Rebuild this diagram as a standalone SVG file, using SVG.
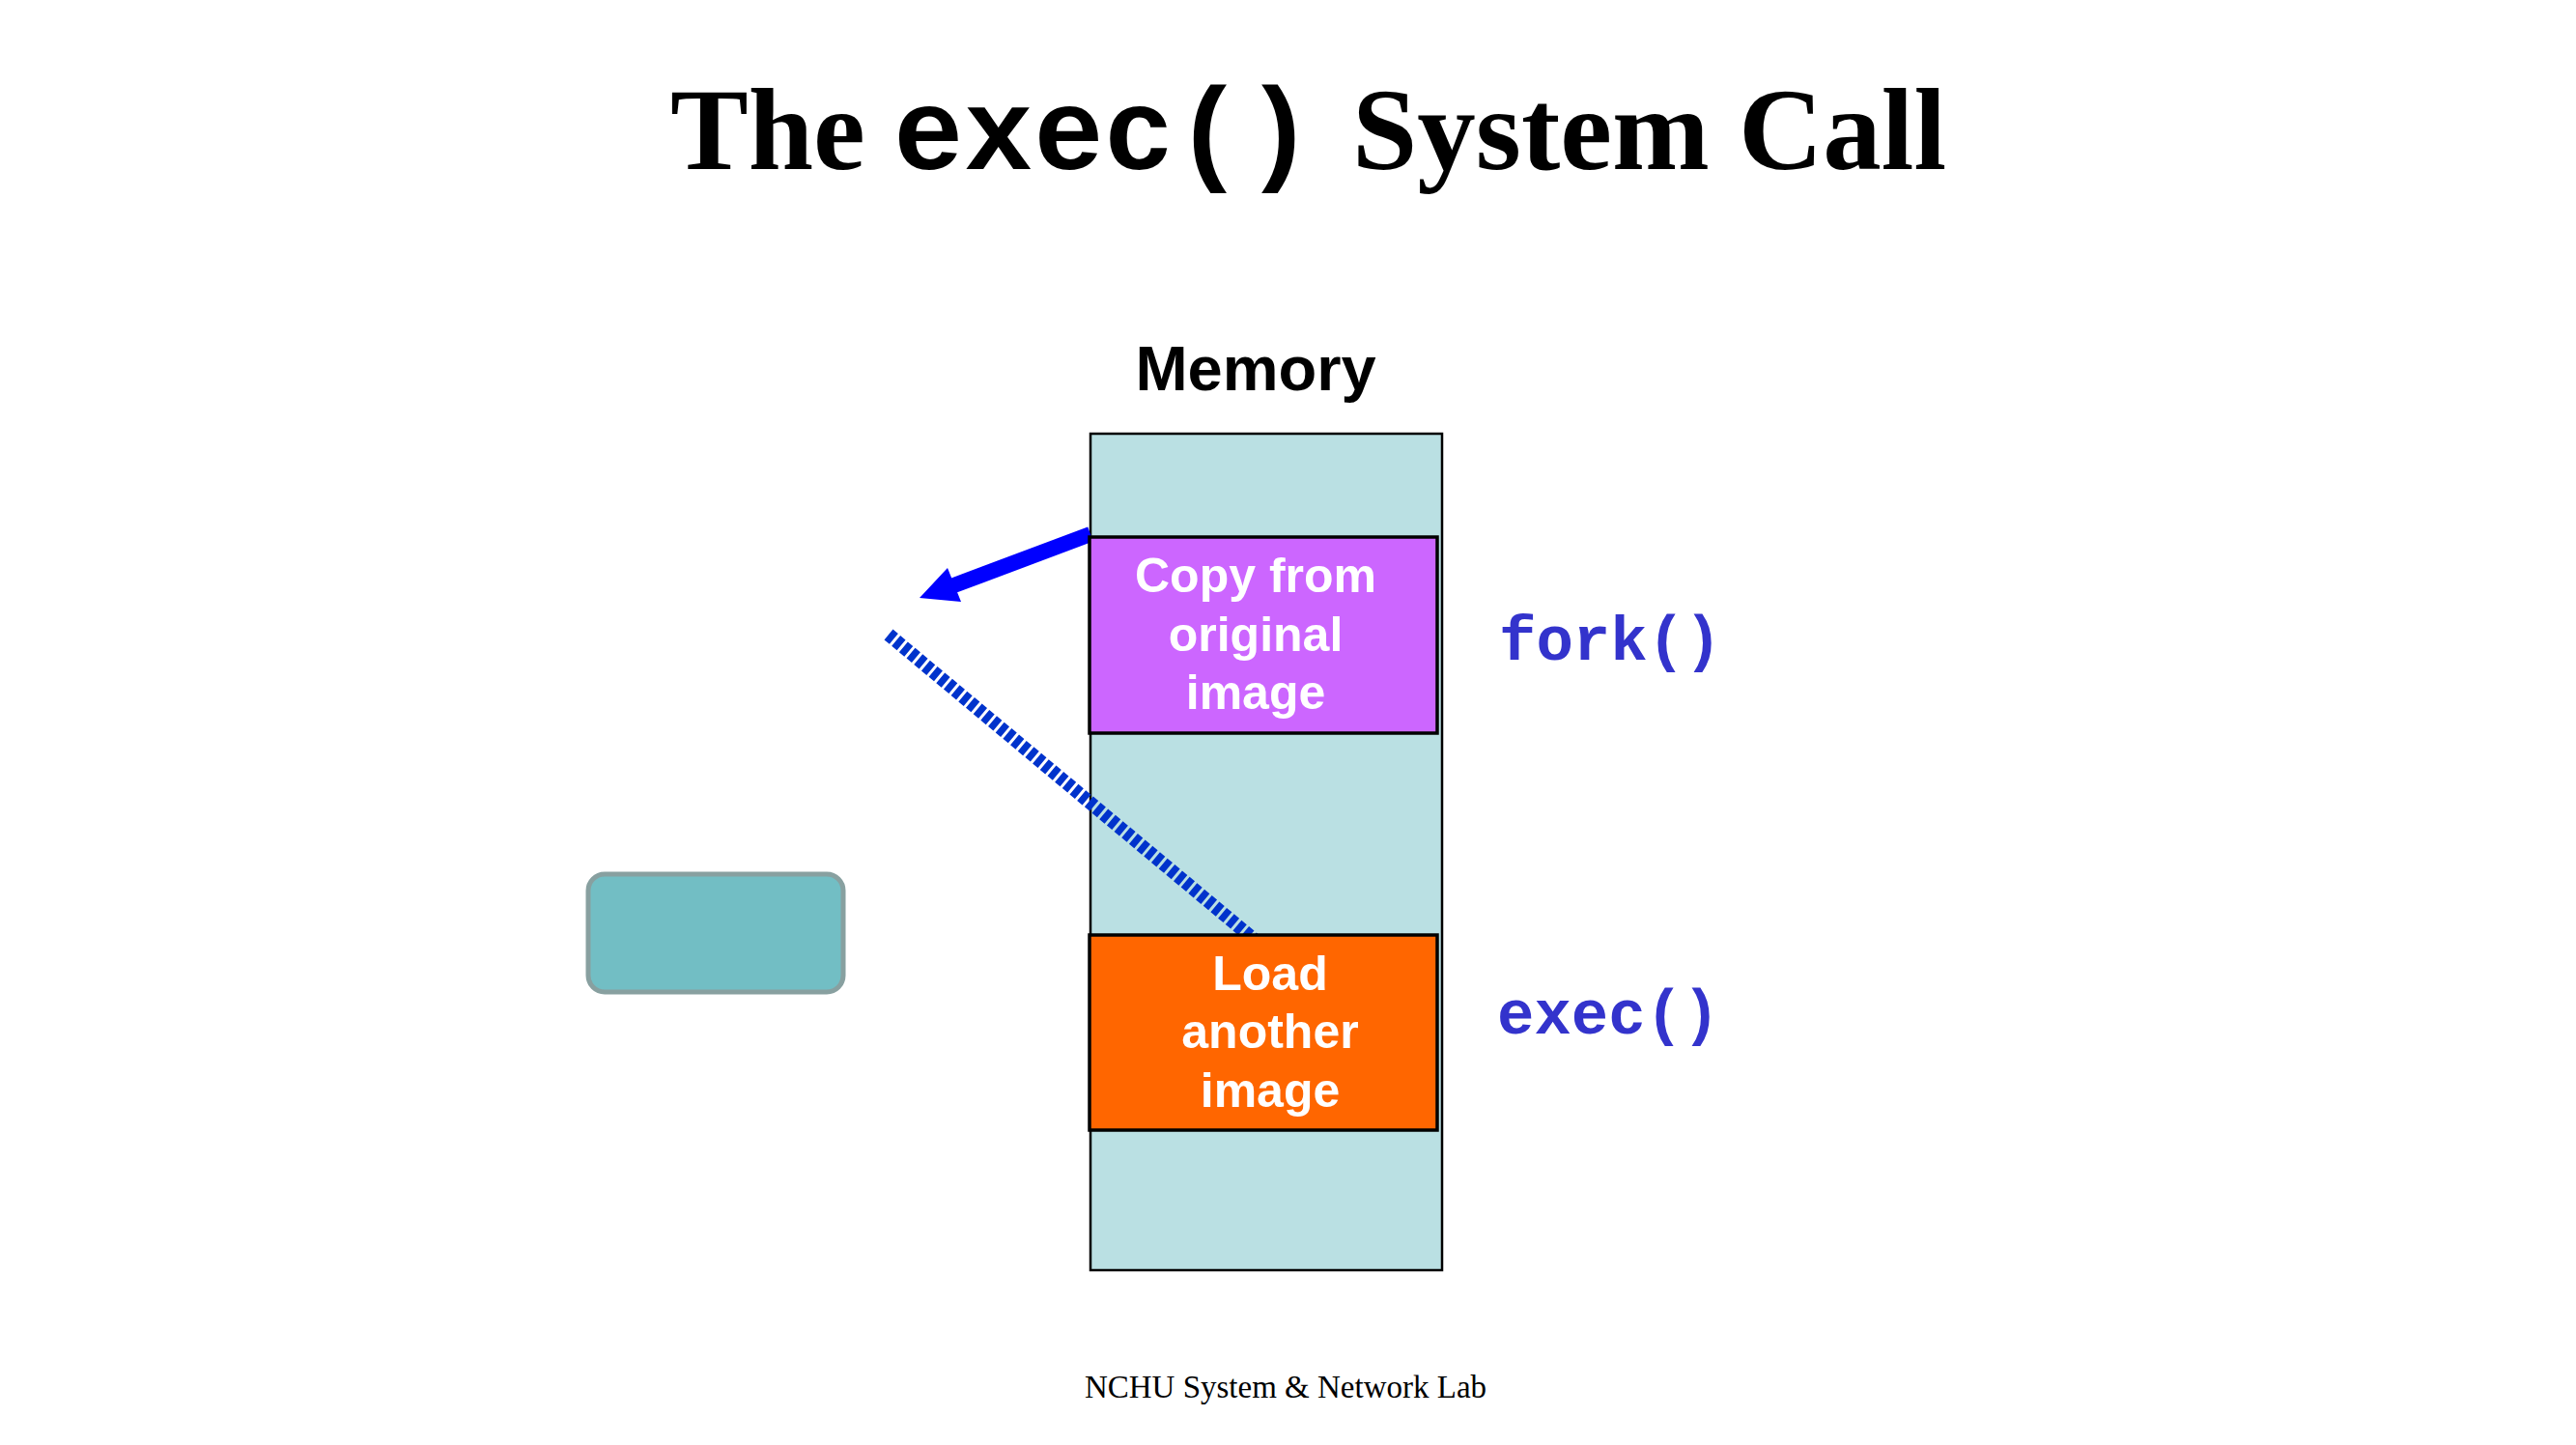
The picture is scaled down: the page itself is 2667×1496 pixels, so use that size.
<svg xmlns="http://www.w3.org/2000/svg" width="2667" height="1496" viewBox="0 0 2667 1496">
<style>
.title{font-family:"Liberation Serif","Times New Roman",serif;font-weight:bold;font-size:121px;fill:#000}
.mono{font-family:"Liberation Mono","Courier New",monospace;font-weight:bold}
.lbl{font-family:"Liberation Sans",Arial,sans-serif;font-weight:bold;font-size:50px;fill:#fff;text-anchor:middle}
.call{font-family:"Liberation Mono","Courier New",monospace;font-weight:bold;font-size:64px;fill:#3333CC}
</style>
<rect width="2667" height="1496" fill="#fff"/>
<text class="title" y="175"><tspan x="694">The</tspan><tspan x="925" class="mono">exec()</tspan><tspan x="1400">System Call</tspan></text>
<g id="memory">
<text x="1300" y="404" font-family="Liberation Sans,Arial,sans-serif" font-weight="bold" font-size="65" text-anchor="middle">Memory</text>
<rect x="1129" y="449" width="364" height="866" fill="#BAE0E3" stroke="#000" stroke-width="2.5"/>
</g>
<g id="connectors">
<line x1="920" y1="657" x2="1300" y2="974" stroke="#0033CC" stroke-width="14" stroke-dasharray="7 3"/>
<line x1="1129" y1="553" x2="985" y2="607" stroke="#0000FF" stroke-width="16"/>
<polygon points="952,619 981,588 995,623" fill="#0000FF"/>
</g>
<g id="copy">
<rect x="1128" y="556" width="360" height="203" fill="#CC66FF" stroke="#000" stroke-width="3.5"/>
<text class="lbl" x="1300" y="613">Copy from</text>
<text class="lbl" x="1300" y="674">original</text>
<text class="lbl" x="1300" y="734">image</text>
</g>
<g id="load">
<rect x="1128" y="968" width="360" height="202" fill="#FF6600" stroke="#000" stroke-width="3.5"/>
<text class="lbl" x="1315" y="1025">Load</text>
<text class="lbl" x="1315" y="1085">another</text>
<text class="lbl" x="1315" y="1146">image</text>
</g>
<g id="fork"><text class="call" x="1552" y="683">fork()</text></g>
<g id="exec"><text class="call" x="1550" y="1070">exec()</text></g>
<g id="box"><rect x="609" y="905" width="264" height="122" rx="17" fill="#72BEC4" stroke="#88A0A0" stroke-width="5"/></g>
<text x="1331" y="1447" font-family="Liberation Serif,'Times New Roman',serif" font-size="33" text-anchor="middle">NCHU System &amp; Network Lab</text>
</svg>
